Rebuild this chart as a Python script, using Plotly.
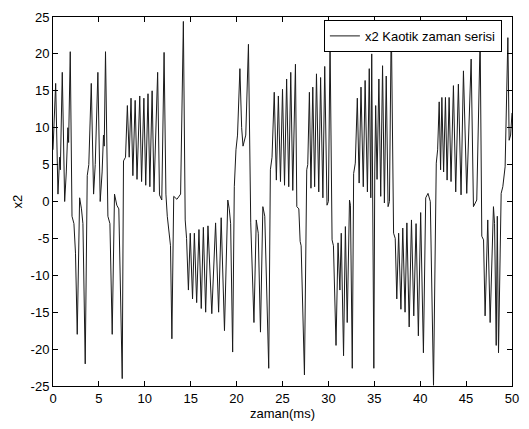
import plotly.graph_objects as go

# time (ms) and x2 values (peaks, troughs and shoulders)
t_ms = [0.00, 0.12, 0.29, 0.54, 0.72, 0.80, 1.01, 1.27, 1.45, 1.62, 1.70, 1.88, 2.07, 2.28, 2.45, 2.64,
        2.90, 3.10, 3.26, 3.51, 3.73, 3.90, 4.17, 4.42, 4.60, 4.89, 5.14, 5.35, 5.50, 5.58, 5.72, 5.98,
        6.20, 6.45, 6.70, 6.95, 7.17, 7.54, 7.68, 7.90, 8.10, 8.30, 8.50, 8.70, 8.95, 9.15, 9.45, 9.65,
        9.90, 10.10, 10.35, 10.55, 10.80, 11.00, 11.40, 11.60, 11.85, 12.10, 12.30, 12.45, 12.60, 12.80,
        12.95, 13.15, 13.50, 13.90, 14.20, 14.40, 14.55, 14.75, 14.95, 15.20, 15.40, 15.65, 15.90, 16.15,
        16.38, 16.63, 16.88, 17.30, 17.71, 18.04, 18.32, 18.68, 19.04, 19.20, 19.35, 19.57, 19.75, 19.93,
        20.10, 20.36, 20.55, 20.70, 21.00, 21.29, 21.54, 21.89, 22.14, 22.36, 22.60, 22.86, 23.07, 23.50,
        23.68, 23.86, 24.10, 24.33, 24.55, 24.78, 25.00, 25.22, 25.45, 25.68, 25.90, 26.12, 26.41, 26.56,
        26.78, 26.92, 27.03, 27.39, 27.64, 27.75, 27.93, 28.10, 28.30, 28.50, 28.70, 28.95, 29.15, 29.40,
        29.60, 29.85, 30.00, 30.18, 30.40, 30.55, 30.83, 31.05, 31.25, 31.40, 31.65, 31.85, 32.05, 32.30,
        32.40, 32.60, 32.75, 32.93, 33.15, 33.35, 33.55, 33.80, 34.00, 34.25, 34.45, 34.62, 34.72, 34.82,
        34.95, 35.05, 35.15, 35.30, 35.50, 35.70, 35.90, 36.10, 36.30, 36.50, 36.65, 36.85, 37.10, 37.28,
        37.45, 37.65, 37.90, 38.10, 38.35, 38.55, 38.80, 39.05, 39.30, 39.55, 39.80, 40.05, 40.35, 40.60,
        40.85, 41.10, 41.45, 41.75, 41.90, 42.07, 42.22, 42.36, 42.55, 42.75, 42.93, 43.15, 43.36, 43.62,
        43.87, 44.16, 44.45, 44.71, 45.07, 45.55, 45.80, 46.16, 46.53, 46.71, 46.90, 47.07, 47.36, 47.62,
        47.98, 48.10, 48.28, 48.40, 48.53, 48.82, 49.00, 49.25, 49.55, 49.69, 49.85, 50.00]

x2_vals = [7, 11, 16, 1, 6, 4.3, 17.5, 0, 4, 10, 8, 20.3, -2, -3, -7, -18,
           0.5, -1, -3, -22, 3.5, 5, 16, 1, 5, 17.5, 0, 4, 9, 7.5, 20.3, -2,
           -3, -18, 1, -0.5, -1, -24, 5.5, 6, 13, 6, 14, 3.5, 13.7, 3, 14.3, 2.7,
           14, 2.2, 14.6, 2, 15, 1.3, 17.5, 0.9, 0.2, 20.2, 1, -2, -3.5, -6,
           -18.6, 0.7, 0.3, 1, 24.4, -2.5, -5, -12, -4.3, -13.2, -4.3, -13.7, -3.8, -14.5,
           -3.5, -15, -3.3, -15.2, -2.9, -15, -2.2, -17.5, 0.2, -1, -3, -20.4, 2, 7,
           9, 18, 10, 7.5, 9, 21.3, -2.9, -16.4, -2.5, -4.3, -17.7, -0.7, -2, -22.6,
           4.3, 6, 14.8, 2.9, 14.3, 2.7, 15.2, 2.2, 16.6, 2, 17.5, 1.5, 18.6, -0.7,
           -1, -5.4, -6, -23.5, 4.3, 5, 14.8, 1.8, 15.5, 2, 17.3, 1.3, 16.8, 0.5,
           18.3, -0.5, 0, 21.7, -5.2, -6, -19.5, -5.6, -12, -4.3, -20.9, -3.4, -16.4, 0.2,
           -0.5, -22.6, 3.8, 5.2, 14, 2.5, 15.5, 2, 16.4, 1.3, 18, 0.5, 20, -2,
           -22.6, 4, 13, 3, 16.6, 0.7, 18.4, -0.2, 17, -0.7, 0, 24.5, -4.3, -5,
           -13.2, -4.3, -14.6, -3.6, -15, -2.9, -17, -2.5, -15.5, -3, -18.2, -1.5, -20.5, 0.5,
           1.1, 0, -24.9, 5.2, 7, 13.5, 4.3, 14.1, 4, 14.1, 2.9, 14.1, 2.7, 15.7,
           1.3, 15.9, 0.9, 17.7, 1.1, 19.3, -0.7, 0.2, 22.2, -4.7, -5.2, -15.5, -2.5, -16.4,
           -0.7, -3, -19.5, -2, -20.5, 1.1, 2, 4.7, 22.2, 8.3, 9, 12]

x_ticks = [0, 5, 10, 15, 20, 25, 30, 35, 40, 45, 50]
x_tick_text = ["0", "5", "10", "15", "20", "25", "30", "35", "40", "45", "50"]
y_ticks = [-25, -20, -15, -10, -5, 0, 5, 10, 15, 20, 25]
y_tick_text = ["-25", "-20", "-15", "-10", "-5", "0", "5", "10", "15", "20", "25"]

series_name = "x2 Kaotik zaman serisi"
x_title = "zaman(ms)"
y_title = "x2"

font_family = "Liberation Sans, Arial, sans-serif"
fs = 13

fig = go.Figure()
fig.add_trace(go.Scatter(
    x=t_ms, y=x2_vals, mode="lines", name=series_name,
    line=dict(color="#1a1a1a", width=1),
    showlegend=True,
))

axis_common = dict(
    showgrid=False, zeroline=False,
    showline=True, linecolor="black", linewidth=1, mirror="ticks",
    ticks="inside", ticklen=5, tickcolor="black",
    tickfont=dict(family=font_family, size=fs, color="black"),
)

fig.update_layout(
    width=529, height=429,
    margin=dict(l=53, r=12, t=10, b=43),
    paper_bgcolor="white", plot_bgcolor="white",
    font=dict(family=font_family, size=fs, color="black"),
    xaxis=dict(range=[0, 50], tickvals=x_ticks, ticktext=x_tick_text,
               title=dict(text=x_title, standoff=3, font=dict(size=fs)),
               **axis_common),
    yaxis=dict(range=[-25, 25], tickvals=y_ticks, ticktext=y_tick_text,
               title=dict(text=y_title, standoff=5, font=dict(size=fs)),
               **axis_common),
    legend=dict(x=0.978, xanchor="right", y=0.992, yanchor="top",
                bgcolor="white", bordercolor="black", borderwidth=1,
                font=dict(family=font_family, size=fs, color="black"),
                tracegroupgap=0),
)

fig.write_html("out.html", config={"displayModeBar": False, "staticPlot": True},
               post_script="document.body.style.margin='0';")
